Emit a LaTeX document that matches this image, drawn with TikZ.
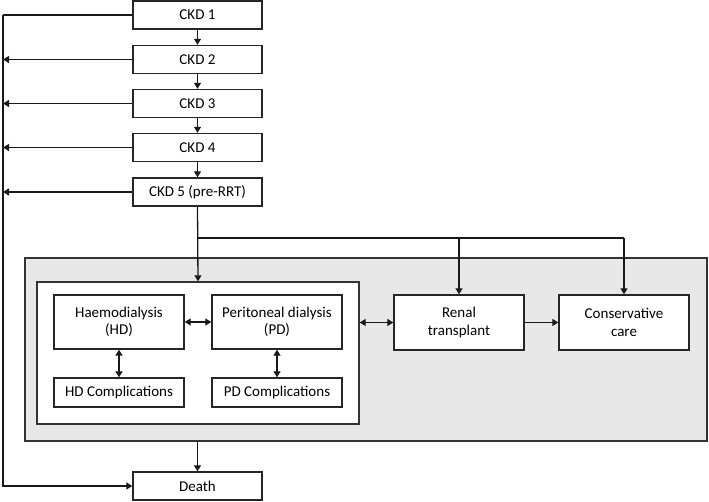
\documentclass[tikz,border=0pt]{standalone}
\usepackage{fontspec}
\setmainfont{Carlito}
\usetikzlibrary{arrows.meta,positioning,calc}
\begin{document}
\begin{tikzpicture}[x=1pt,y=-1pt,
  box/.style={draw=black!85,line width=1.4pt,fill=white,inner sep=0pt,align=center,font=\fontsize{15}{17.5}\selectfont},
  arr/.style={line width=1.3pt,draw=black!90,-{Triangle[length=6pt,width=7pt]}},
  darr/.style={line width=1.3pt,draw=black!90,{Triangle[length=6pt,width=7pt]}-{Triangle[length=6pt,width=7pt]}},
  ln/.style={line width=1.3pt,draw=black!90}]
\useasboundingbox (0,0) rectangle (709,502);
% background panels
\node[draw=black!80,line width=1.4pt,fill=black!9,minimum width=682pt,minimum height=183pt,inner sep=0pt] (grey) at (366,349.5) {};
\node[draw=black!80,line width=1.4pt,fill=white,minimum width=322pt,minimum height=142pt,inner sep=0pt] (inner) at (198,353) {};
% CKD stages
\node[box,minimum width=129pt,minimum height=28pt] (c1) at (197.5,15) {CKD 1};
\node[box,minimum width=129pt,minimum height=28pt] (c2) at (197.5,59.5) {CKD 2};
\node[box,minimum width=129pt,minimum height=28pt] (c3) at (197.5,103.5) {CKD 3};
\node[box,minimum width=129pt,minimum height=28pt] (c4) at (197.5,147.5) {CKD 4};
\node[box,minimum width=129pt,minimum height=28pt] (c5) at (197.5,192) {CKD 5 (pre-RRT)};
\node[box,minimum width=129pt,minimum height=28pt] (death) at (197.5,486) {Death};
% therapies
\node[box,minimum width=130pt,minimum height=54pt] (hd) at (119,322) {Haemodialysis\\(HD)};
\node[box,minimum width=130pt,minimum height=54pt] (pd) at (277,322) {Peritoneal dialysis\\(PD)};
\node[box,minimum width=130pt,minimum height=29pt] (hdc) at (119,392.5) {HD Complications};
\node[box,minimum width=130pt,minimum height=29pt] (pdc) at (277,392.5) {PD Complications};
\node[box,minimum width=130pt,minimum height=55pt] (rt) at (459,322.5) {Renal\\transplant};
\node[box,minimum width=130pt,minimum height=55pt] (cc) at (624,322.5) {Conservative\\care};
% coordinates
\coordinate (L) at (3,15);
\coordinate (br) at (197.5,238);
% CKD chain
\draw[arr] (c1) -- (c2);
\draw[arr] (c2) -- (c3);
\draw[arr] (c3) -- (c4);
\draw[arr] (c4) -- (c5);
% left trunk
\draw[ln] (c1.west) -- (L);
\draw[arr] (L) |- (death.west);
\draw[arr] (c2.west) -- (c2.west -| L);
\draw[arr] (c3.west) -- (c3.west -| L);
\draw[arr] (c4.west) -- (c4.west -| L);
\draw[arr] (c5.west) -- (c5.west -| L);
% branching
\draw[arr] (c5.south) -- (inner.north);
\draw[ln] (br) -- (br -| cc.north);
\draw[arr] (br -| rt.north) -- (rt.north);
\draw[arr] (br -| cc.north) -- (cc.north);
% inside
\draw[darr] (hd.east) -- (pd.west);
\draw[darr] (hd.south) -- (hdc.north);
\draw[darr] (pd.south) -- (pdc.north);
\draw[darr] (inner.east |- rt.west) -- (rt.west);
\draw[arr] (rt.east) -- (cc.west);
\draw[arr] (grey.south -| c5.south) -- (death.north);
\end{tikzpicture}
\end{document}
